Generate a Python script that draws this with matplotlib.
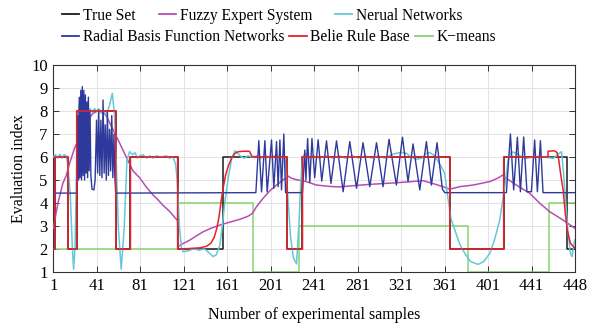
import matplotlib
matplotlib.use("Agg")
import matplotlib.pyplot as plt

plt.rcParams['font.family'] = ['Liberation Serif', 'DejaVu Serif']

# x tick positions / labels
xtick_pos = [1, 41, 81, 121, 161, 201, 241, 281, 321, 361, 401, 441, 481]
xtick_labels = ['1', '41', '81', '121', '161', '201', '241', '281', '321', '361', '401', '441', '448']
ytick_pos = [1, 2, 3, 4, 5, 6, 7, 8, 9, 10]

# True Set (step, post)
true_x = [1, 2.3, 14.5, 22.5, 58.5, 72, 115.4, 157.3, 216.2, 230.3, 365.8, 415.4, 473.7, 481]
true_y = [2, 6, 2, 8, 2, 6, 2, 6, 2, 6, 2, 6, 2, 2]

# K-means (step, post)
km_x = [1, 1.8, 115.4, 184.3, 227.2, 382.6, 457.1, 481]
km_y = [4, 2, 4, 1, 3, 1, 4, 4]

# Belief Rule Base
brb_x = [1, 2.3, 2.3, 14.5, 14.5, 22.5, 22.5, 58.5, 58.5, 72, 72, 115.4, 115.4, 126, 136, 142, 146,
         149, 151.5, 153.5, 155.5, 157.5, 159.5, 162, 165, 168, 171, 176, 181.5, 183, 184.3, 216.2,
         216.2, 230.3, 230.3, 365.8, 365.8, 415.4, 415.4, 456.2, 456.2, 462, 464.4, 466, 468, 470,
         472, 474, 476.8, 480.7]
brb_y = [2, 2, 6, 6, 2, 2, 8, 8, 2, 2, 6, 6, 2.0, 2.02, 2.05, 2.12, 2.25,
         2.5, 2.9, 3.4, 4.1, 4.7, 5.2, 5.6, 5.95, 6.15, 6.23, 6.25, 6.25, 6.1, 6.0, 6.0,
         2, 2, 6, 6, 2, 2, 6, 6, 6.25, 6.27, 6.2, 5.9, 5.2, 4.6,
         3.6, 2.8, 2.25, 2.05]

# Neural Networks
nn_x = [1, 3, 5, 7, 9, 11, 13, 14.5, 16.6, 18.5, 19.7, 21.0, 21.9, 22.8, 24.0, 25.3, 27, 29, 31, 33,
        35, 37, 39, 41, 43, 45, 47, 49, 51, 53, 55.3, 57.4, 58.9, 60.8, 63.5, 66.3, 68.8, 71.2, 74,
        76.1, 78.5, 80.7, 83.5, 86.9, 90, 92.9, 96, 100, 105.2, 108, 111.3, 113.5, 115.0, 117, 119.0,
        120.5, 125, 130, 135, 140, 144, 148.1, 151, 154.3, 156.5, 158.9, 161.9, 165.0, 168.1, 171,
        174, 177, 180, 184, 188, 192, 196, 200, 205, 210, 214.1, 216.2, 219.3, 222, 224.8, 227.2,
        228.5, 230.3, 233, 236, 240, 246, 252, 258, 264, 270, 276, 282, 288, 294, 300, 306, 312,
        316.7, 321, 325.9, 330, 335.1, 340, 344, 347.3, 352, 356.5, 361.1, 364.2, 367, 370.4, 375,
        379.6, 385, 391.8, 397, 402.6, 407, 411.8, 416.4, 419.4, 422.5, 427, 432, 436.5, 442, 448.8,
        455, 461, 465, 468.6, 470.5, 472.5, 474.5, 476.8, 478.3, 480.7]
nn_y = [6.0, 6.1, 5.95, 6.12, 5.95, 6.1, 6.05, 5.6, 4.4, 2.1, 1.12, 2.1, 4.1, 6.0, 7.9, 8.4, 8.2, 7.95, 8.1, 7.9,
        8.1, 7.95, 8.1, 8.0, 8.1, 7.9, 8.05, 7.85, 8.0, 8.3, 8.77, 7.8, 5.87, 2.97, 1.12, 2.97, 5.87, 6.23, 6.1,
        6.19, 5.95, 6.05, 6.1, 5.95, 6.05, 5.95, 6.05, 6.0, 6.05, 5.95, 6.0, 5.7, 5.0, 3.0, 2.03,
        1.88, 1.92, 2.0, 1.95, 2.0, 1.85, 1.67, 1.75, 2.17, 3.0, 4.06, 5.07, 5.9, 6.27, 6.15,
        6.0, 5.95, 6.05, 6.0, 6.05, 5.95, 6.05, 6.0, 6.05, 6.0, 6.0, 4.7, 2.53, 1.6, 1.35, 3.26,
        4.7, 6.0, 6.15, 5.95, 6.05, 5.95, 6.05, 5.95, 6.05, 5.95, 6.05, 5.95, 6.05, 5.95, 6.05, 5.95, 6.1,
        6.16, 6.2, 6.16, 6.0, 5.9, 5.95, 6.15, 6.2, 6.05, 5.7, 5.3, 4.2, 3.3, 2.83, 2.2,
        1.81, 1.45, 1.33, 1.45, 1.81, 2.4, 3.26, 4.71, 5.87, 6.23, 6.16, 6.0, 5.94, 6.0, 6.04,
        5.98, 5.94, 6.1, 6.23, 5.3, 3.99, 2.8, 1.81, 1.67, 2.39]

# Fuzzy Expert System
fes_x = [1, 5.3, 9.9, 13.0, 16.1, 20.7, 25.3, 31.3, 37.5, 43.7, 49.7, 55.9, 62.1, 68.1, 74.3, 80.4,
         86.5, 92.7, 96.1, 102, 108.3, 115.4, 115.6, 121, 126.7, 132, 138.9, 146, 154.3, 163.5, 172.7,
         180, 184.3, 188, 194, 200.2, 206.4, 212.5, 217.1, 220, 223.3, 229.4, 233.7, 243.2, 255.4,
         264.6, 273.8, 292.2, 316.7, 341.2, 353.5, 360, 365.8, 375, 387.2, 402.6, 410, 414.8, 417.9,
         427.1, 439.4, 448.6, 457.8, 470, 481]
fes_y = [2.9, 4.0, 4.87, 5.2, 5.74, 6.4, 6.87, 7.5, 7.9, 8.04, 7.8, 7.2, 6.6, 6.0, 5.4, 5.1,
         4.7, 4.35, 4.2, 3.9, 3.62, 3.23, 2.1, 2.25, 2.39, 2.55, 2.75, 2.9, 3.04, 3.17, 3.29,
         3.42, 3.55, 3.84, 4.2, 4.53, 4.78, 5.0, 5.17, 5.08, 5.03, 4.97, 4.93, 4.78, 4.72,
         4.7, 4.74, 4.81, 4.88, 4.97, 4.8, 4.7, 4.6, 4.71, 4.78, 4.93, 5.08, 5.22, 5.07,
         4.78, 4.42, 3.99, 3.62, 3.26, 2.9]

# Radial Basis Function Networks
rbf_x = [1, 22.8, 23.5, 24.2, 24.9, 25.6, 26.3, 27.0, 27.7, 28.4, 29.1, 29.8, 30.5, 31.2, 31.9, 32.6,
         33.3, 34.0, 34.8, 35.6, 36.6, 38.4, 39.5, 40.8, 41.8, 42.8, 43.8, 44.8, 45.8, 46.8, 47.8,
         48.8, 49.8, 50.8, 51.8, 52.8, 53.8, 54.8, 55.8, 56.8, 57.6, 58.4,
         187.4, 190.1, 192.6, 195.7, 197.8, 201.8, 203.9, 206.4,
         207.9, 209.5, 211.0, 213.1, 214.7, 230.3, 232.4, 233.4, 235.0, 237.0, 239.0, 241.5, 244.7,
         248.0, 252.4, 256.5, 261.6, 267.7, 273.8, 280.0, 286.0, 292.2, 298.4, 304.4, 309.9, 316.7,
         322.3, 327.4, 332.0, 338.2, 344.3, 348.9, 354.1, 359, 361.2, 417.9, 421.6, 424.6, 428.0,
         430.8, 433.8, 436.8, 440.9, 443.9, 446.4, 449.2, 451.6, 481]
rbf_y = [4.43, 4.43, 7.8, 5.0, 8.6, 5.1, 8.9, 5.0, 9.06, 5.2, 8.9, 5.0, 8.7, 5.3, 8.4, 5.1,
         8.6, 5.4, 8.0, 5.2, 4.6, 4.57, 5.0, 7.6, 5.3, 8.04, 5.2, 7.6, 5.1, 8.48, 5.3,
         7.4, 5.0, 8.0, 5.2, 7.2, 5.4, 7.8, 5.1, 7.0, 5.2, 4.43,
         4.45, 6.71, 4.48, 6.71, 4.48, 6.74, 4.64, 6.67,
         4.71, 6.74, 4.57, 7.0, 4.45, 4.45, 6.3, 5.0, 6.8, 4.9, 6.8, 5.1, 6.75,
         4.95, 6.7, 4.85, 6.7, 4.49, 6.67, 4.64, 6.62, 4.71, 6.62, 4.71, 6.77, 4.78,
         6.86, 4.93, 6.57, 4.57, 6.67, 4.78, 6.62, 4.6, 4.45, 4.45, 7.0, 4.57, 6.86,
         4.49, 6.87, 4.49, 4.49, 6.74, 4.49, 6.71, 4.45, 4.45]

fig = plt.figure(figsize=(5.98, 3.30), dpi=100)
ax = fig.add_axes([0.0891, 0.1758, 0.9615 - 0.0891, 0.803 - 0.1758])

lw = 1.1
l_true, = ax.plot(true_x, true_y, drawstyle='steps-post', color='#1a1a1a', lw=lw, zorder=2, label='True Set')
l_km, = ax.plot(km_x, km_y, drawstyle='steps-post', color='#86d46e', lw=lw, zorder=1, label='K\u2212means')
l_fes, = ax.plot(fes_x, fes_y, color='#b84cb4', lw=lw, zorder=3, label='Fuzzy Expert System')
l_nn, = ax.plot(nn_x, nn_y, color='#62c9d8', lw=lw, zorder=4, label='Nerual Networks')
l_rbf, = ax.plot(rbf_x, rbf_y, color='#2d3a9c', lw=1.0, zorder=5, label='Radial Basis Function Networks')
l_brb, = ax.plot(brb_x, brb_y, color='#e8202a', lw=lw, zorder=6, label='Belie Rule Base')

ax.set_xlim(1, 481)
ax.set_ylim(1, 10)
ax.set_xticks(xtick_pos)
ax.set_xticklabels(xtick_labels)
ax.set_yticks(ytick_pos)
ax.tick_params(direction='in', top=True, right=True, length=4, width=0.7,
               labelsize=12, color='#333333', pad=4)
ax.grid(True, color='#e3e3e3', lw=0.7, zorder=0)
ax.set_axisbelow(True)
for s in ax.spines.values():
    s.set_color('#333333')
    s.set_linewidth(0.8)

ax.set_xlabel('Number of experimental samples', fontsize=11.5, labelpad=10)
ax.set_ylabel('Evaluation index', fontsize=11.5, labelpad=3)

leg_kw = dict(frameon=False, fontsize=11.2, handlelength=1.1, handletextpad=0.25,
              columnspacing=1.5, borderpad=0, borderaxespad=0, ncol=3, loc='center left')
leg1 = fig.legend(handles=[l_true, l_fes, l_nn], bbox_to_anchor=(0.103, 0.953), **leg_kw)
leg2 = fig.legend(handles=[l_rbf, l_brb, l_km], bbox_to_anchor=(0.103, 0.888),
                  **dict(leg_kw, columnspacing=0.35))
for lg in (leg1, leg2):
    for h in lg.get_lines():
        h.set_linewidth(1.3)

fig.savefig('out.png', dpi=100)
